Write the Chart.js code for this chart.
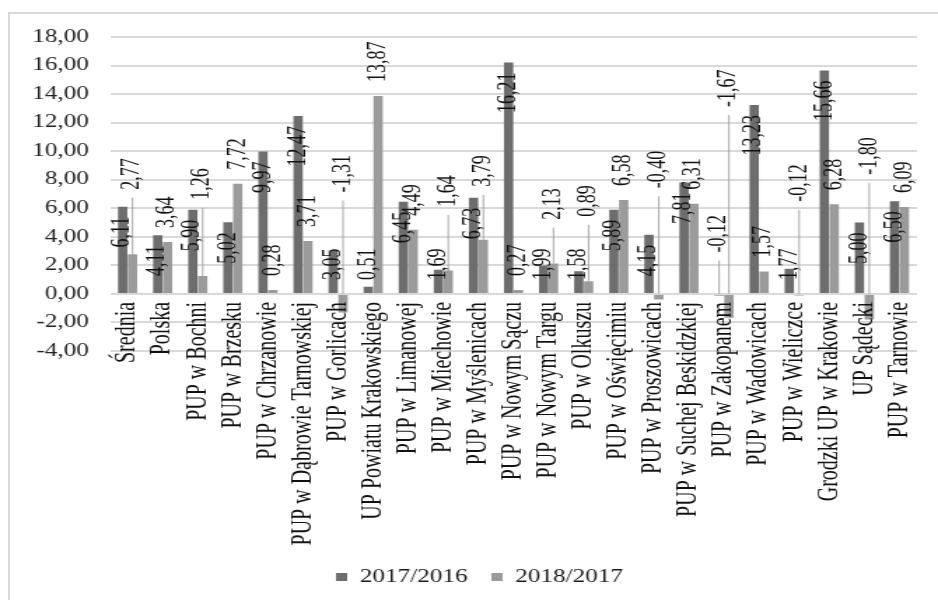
<!DOCTYPE html>
<html>
<head>
<meta charset="utf-8">
<script src="https://cdn.jsdelivr.net/npm/chart.js@4.4.1/dist/chart.umd.min.js"></script>
<style>
  html, body { margin: 0; padding: 0; background: #fff; overflow: hidden; }
  #frame { position: absolute; left: 8px; top: 12px; width: 960px; height: 620px;
           border-left: 2px solid #d9d9d9; border-top: 2px solid #d9d9d9; }
  /* the source picture is stretched horizontally, so the chart is drawn narrow and widened */
  #wrap { position: absolute; left: 0; top: 0; width: 670px; height: 600px;
          transform: scaleX(1.4); transform-origin: 0 0; }
</style>
</head>
<body>
<div id="frame"></div>
<div id="wrap"><canvas id="chart"></canvas></div>
<script>
const categories = [
  'Średnia', 'Polska', 'PUP w Bochni', 'PUP w Brzesku', 'PUP w Chrzanowie',
  'PUP w Dąbrowie Tarnowskiej', 'PUP w Gorlicach', 'UP Powiatu Krakowskiego',
  'PUP w Limanowej', 'PUP w Miechowie', 'PUP w Myślenicach', 'PUP w Nowym Sączu',
  'PUP w Nowym Targu', 'PUP w Olkuszu', 'PUP w Oświęcimiu', 'PUP w Proszowicach',
  'PUP w Suchej Beskidzkiej', 'PUP w Zakopanem', 'PUP w Wadowicach', 'PUP w Wieliczce',
  'Grodzki UP w Krakowie', 'UP Sądecki', 'PUP w Tarnowie'
];
const seriesNames = ['2017/2016', '2018/2017'];
const values2017 = [6.11, 4.11, 5.90, 5.02, 9.97, 12.47, 3.05, 0.51, 6.45, 1.69, 6.73, 16.21,
                    1.99, 1.58, 5.89, 4.15, 7.81, -0.12, 13.23, 1.77, 15.66, 5.00, 6.50];
const values2018 = [2.77, 3.64, 1.26, 7.72, 0.28, 3.71, -1.31, 13.87, 4.49, 1.64, 3.79, 0.27,
                    2.13, 0.89, 6.58, -0.40, 6.31, -1.67, 1.57, -0.12, 6.28, -1.80, 6.09];
// labels that were dragged away in the source and hang on a leader line (axis value of label foot)
const moved2017 = [null, null, null, null, null, null, null, null, null, null, null, null,
                   null, null, null, null, null, 2.9, null, null, null, null, null];
const moved2018 = [7.3, null, 6.6, null, null, null, 7.1, null, null, 6.1, 7.5, null,
                   5.2, 5.4, null, 7.4, null, 13.1, null, 6.45, null, 8.35, null];
const yMin = -4, yMax = 18, yStep = 2;

const fmt = (v) => v.toFixed(2).replace('.', ',');

const barLabels = {
  id: 'barLabels',
  afterLayout(chart) {
    // legend sits a little right of centre in the source
    if (chart.legend) {
      chart.legend.left += 4;
      chart.legend.right += 4;
    }
  },
  afterDatasetsDraw(chart) {
    const ctx = chart.ctx;
    const yScale = chart.scales.y;
    const xScale = chart.scales.x;
    const zeroY = yScale.getPixelForValue(0);
    ctx.save();
    ctx.fillStyle = '#111';
    ctx.textBaseline = 'middle';

    // value labels, rotated
    ctx.font = '18px "Liberation Serif"';
    ctx.textAlign = 'left';
    chart.data.datasets.forEach((ds, di) => {
      const meta = chart.getDatasetMeta(di);
      const moved = di === 0 ? moved2017 : moved2018;
      meta.data.forEach((bar, i) => {
        const text = fmt(ds.data[i]);
        const len = ctx.measureText(text).width;
        const top = Math.min(bar.y, zeroY);
        let foot;
        if (moved[i] != null) {
          foot = yScale.getPixelForValue(moved[i]);
          ctx.strokeStyle = '#a6a6a6';
          ctx.lineWidth = 1;
          ctx.beginPath();
          ctx.moveTo(bar.x, foot + 8);
          ctx.lineTo(bar.x, top);
          ctx.stroke();
        } else if (di === 0) {
          foot = Math.min(top + 10 + len, zeroY - 14);
        } else {
          foot = top - 14;
        }
        ctx.save();
        ctx.translate(bar.x, foot);
        ctx.rotate(-Math.PI / 2);
        ctx.fillText(text, 0, 0);
        ctx.restore();
      });
    });

    // category labels hang from the zero line
    ctx.font = '20px "Liberation Serif"';
    ctx.textAlign = 'right';
    categories.forEach((c, i) => {
      const px = xScale.getPixelForValue(i);
      ctx.save();
      ctx.translate(px, zeroY + 8);
      ctx.rotate(-Math.PI / 2);
      ctx.fillText(c, 0, 0);
      ctx.restore();
    });
    ctx.restore();
  }
};

new Chart(document.getElementById('chart'), {
  type: 'bar',
  data: {
    labels: categories,
    datasets: [
      { label: seriesNames[0], data: values2017, backgroundColor: '#6d6d6d' },
      { label: seriesNames[1], data: values2018, backgroundColor: '#9b9b9b' }
    ]
  },
  options: {
    responsive: true,
    maintainAspectRatio: false,
    animation: false,
    layout: { padding: { left: 22, right: 15, top: 37, bottom: 4 } },
    datasets: { bar: { categoryPercentage: 0.56, barPercentage: 0.95 } },
    scales: {
      x: {
        grid: { display: false },
        border: { display: false },
        ticks: { display: false },
        afterFit: (s) => { s.height = 200; }
      },
      y: {
        min: yMin,
        max: yMax,
        afterFit: (s) => { s.width = 56.6; },
        grid: { color: '#d9d9d9', lineWidth: 2, drawTicks: false },
        border: { display: false },
        ticks: {
          stepSize: yStep,
          padding: 15,
          color: '#222',
          font: { family: 'Liberation Serif', size: 18 },
          callback: (v) => fmt(v)
        }
      }
    },
    plugins: {
      legend: {
        position: 'bottom',
        labels: {
          boxWidth: 8,
          boxHeight: 8,
          padding: 17,
          color: '#1a1a1a',
          font: { family: 'Liberation Serif', size: 18 }
        }
      },
      tooltip: { enabled: false }
    }
  },
  plugins: [barLabels]
});
</script>
</body>
</html>
